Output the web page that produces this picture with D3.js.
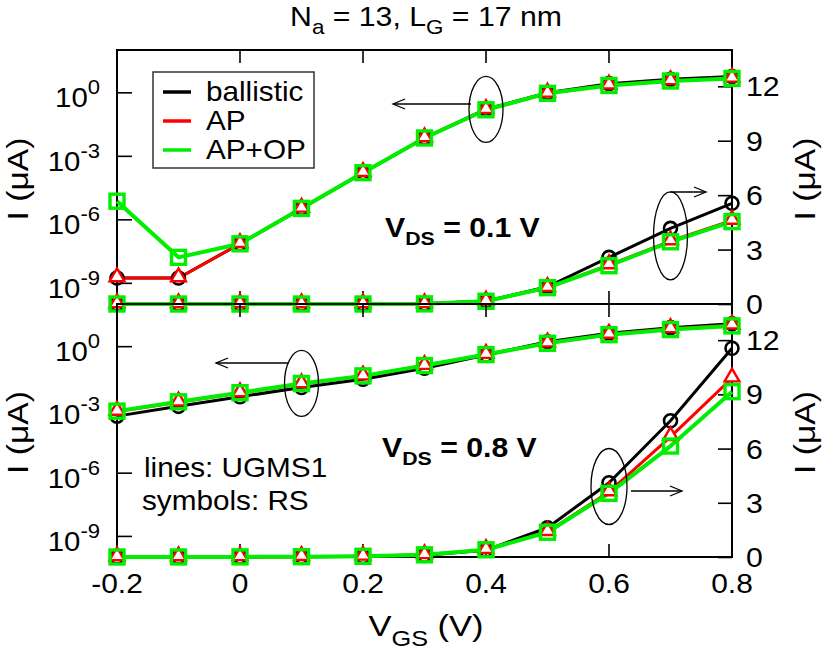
<!DOCTYPE html>
<html>
<head>
<meta charset="utf-8">
<script src="https://cdn.jsdelivr.net/npm/d3@7"></script>
<style>
  body { margin: 0; background: #fff; }
  text { font-family: "Liberation Sans", Arial, sans-serif; fill: #000; }
</style>
</head>
<body>
<div id="chart"></div>
<script>
var width = 830;
var height = 652;

// gate voltage (V)
var vgs = [-0.2, -0.1, 0, 0.1, 0.2, 0.3, 0.4, 0.5, 0.6, 0.7, 0.8];

// current (uA), VDS = 0.1 V
var ballistic01 = [1.7e-9, 1.7e-9, 7e-8, 3.3e-6, 1.6e-4, 7e-3, 0.16, 0.95, 2.57, 4.17, 5.55];
var ap01        = [1.7e-9, 1.7e-9, 7e-8, 3.3e-6, 1.6e-4, 7e-3, 0.15, 0.9, 2.15, 3.47, 4.6];
var apop01      = [7.2e-6, 1.6e-8, 7e-8, 3.3e-6, 1.6e-4, 7e-3, 0.15, 0.9, 2.11, 3.43, 4.54];

// current (uA), VDS = 0.8 V
var ballistic08 = [4.8e-4, 1.4e-3, 4e-3, 0.011, 0.027, 0.09, 0.38, 1.62, 4.11, 7.54, 11.55];
var ap08        = [8e-4, 2.2e-3, 6e-3, 0.016, 0.038, 0.12, 0.4, 1.4, 3.6, 6.65, 9.9];
var apop08      = [8.3e-4, 2.3e-3, 6.2e-3, 0.017, 0.039, 0.12, 0.4, 1.37, 3.52, 6.14, 9.15];

var xTicks   = [-0.2, 0, 0.2, 0.4, 0.6, 0.8];
var xLabels  = ["-0.2", "0", "0.2", "0.4", "0.6", "0.8"];
var logTicks = [1e0, 1e-3, 1e-6, 1e-9];
var logLabels = ["0", "-3", "-6", "-9"];
var linTicks = [0, 3, 6, 9, 12];
var legendNames = ["ballistic", "AP", "AP+OP"];

var colors = {ballistic: "#000000", ap: "#ff0000", apop: "#00ee00"};

var svg = d3.select("#chart").append("svg")
  .attr("width", width)
  .attr("height", height);

// text with a slight horizontal stretch, like the original figure
function txt(parent, x, y, size, sx, rot){
  var tr = "translate(" + x + "," + y + ")" + (rot ? " rotate(" + rot + ")" : "") + " scale(" + sx + ",1)";
  return parent.append("text").attr("transform", tr).attr("font-size", size);
}

var left = 117, right = 732;
var x = d3.scaleLinear().domain([-0.2, 0.8]).range([left, right]);

var panels = [
  {top: 50,  bottom: 304, vds: "0.1", data: [ballistic01, ap01, apop01]},
  {top: 304, bottom: 557, vds: "0.8", data: [ballistic08, ap08, apop08]}
];

panels.forEach(function(p){
  p.yLog = d3.scaleLog().domain([1e-10, 1e2]).range([p.bottom, p.top]);
  p.yLin = d3.scaleLinear().domain([0, 14]).range([p.bottom, p.top]);
});

function drawCurves(g, p, y){
  var line = d3.line().x(function(d){ return x(d[0]); }).y(function(d){ return y(d[1]); });
  var series = [
    {vals: p.data[0], color: colors.ballistic, w: 3},
    {vals: p.data[1], color: colors.ap, w: 3},
    {vals: p.data[2], color: colors.apop, w: 4}
  ];
  series.forEach(function(s){
    g.append("path")
      .datum(d3.zip(vgs, s.vals))
      .attr("d", line)
      .attr("fill", "none")
      .attr("stroke", s.color)
      .attr("stroke-width", s.w)
      .attr("stroke-linejoin", "round");
  });
  // symbols: circles, triangles, squares
  g.selectAll(null).data(d3.zip(vgs, p.data[0])).enter().append("circle")
    .attr("cx", function(d){ return x(d[0]); })
    .attr("cy", function(d){ return y(d[1]); })
    .attr("r", 6.5)
    .attr("fill", "none")
    .attr("stroke", colors.ballistic)
    .attr("stroke-width", 2.6);
  var tri = d3.symbol().type(d3.symbolTriangle).size(95);
  g.selectAll(null).data(d3.zip(vgs, p.data[1])).enter().append("path")
    .attr("d", tri)
    .attr("transform", function(d){ return "translate(" + x(d[0]) + "," + (y(d[1]) - 1) + ")"; })
    .attr("fill", "#fff")
    .attr("stroke", colors.ap)
    .attr("stroke-width", 2.4);
  g.selectAll(null).data(d3.zip(vgs, p.data[2])).enter().append("rect")
    .attr("x", function(d){ return x(d[0]) - 7; })
    .attr("y", function(d){ return y(d[1]) - 7; })
    .attr("width", 14)
    .attr("height", 14)
    .attr("fill", "none")
    .attr("stroke", colors.apop)
    .attr("stroke-width", 3.4);
}

function arrowHead(g, x0, y0, dir){
  g.append("path")
    .attr("d", "M" + (x0 - dir * 12) + "," + (y0 - 5) + "L" + x0 + "," + y0 + "L" + (x0 - dir * 12) + "," + (y0 + 5))
    .attr("fill", "none").attr("stroke", "#000").attr("stroke-width", 1.3);
}

function annot(g, cx, cy, rx, ry, x1, y1, x2, dir){
  g.append("ellipse").attr("cx", cx).attr("cy", cy).attr("rx", rx).attr("ry", ry)
    .attr("fill", "none").attr("stroke", "#000").attr("stroke-width", 1.3);
  g.append("line").attr("x1", x1).attr("y1", y1).attr("x2", x2).attr("y2", y1)
    .attr("stroke", "#000").attr("stroke-width", 1.3);
  arrowHead(g, x2, y1, dir);
}

panels.forEach(function(p, i){
  var g = svg.append("g");

  // frame
  g.append("rect")
    .attr("x", left).attr("y", p.top)
    .attr("width", right - left).attr("height", p.bottom - p.top)
    .attr("fill", "none").attr("stroke", "#000").attr("stroke-width", 2);

  // x ticks (inward, top and bottom)
  xTicks.forEach(function(t){
    g.append("line").attr("x1", x(t)).attr("x2", x(t)).attr("y1", p.top).attr("y2", p.top + 13)
      .attr("stroke", "#000").attr("stroke-width", 1.6);
    g.append("line").attr("x1", x(t)).attr("x2", x(t)).attr("y1", p.bottom).attr("y2", p.bottom - 13)
      .attr("stroke", "#000").attr("stroke-width", 1.6);
  });

  // left log axis
  var la = g.append("g").attr("transform", "translate(" + left + ",0)")
    .call(d3.axisLeft(p.yLog).tickValues(logTicks).tickSize(-15).tickFormat(""));
  la.select(".domain").remove();
  la.selectAll(".tick line").attr("stroke-width", 1.6);
  logTicks.forEach(function(t, k){
    var tx = txt(g, 100, p.yLog(t) + 15, 28, 1.05).attr("text-anchor", "end");
    tx.append("tspan").text("10");
    tx.append("tspan").attr("dy", -13).attr("font-size", 21).text(logLabels[k]);
  });

  // right linear axis
  var ra = g.append("g").attr("transform", "translate(" + right + ",0)")
    .call(d3.axisRight(p.yLin).tickValues(linTicks).tickSize(-14).tickFormat(""));
  ra.select(".domain").remove();
  ra.selectAll(".tick line").attr("stroke-width", 1.6);
  linTicks.forEach(function(t){
    txt(g, 746, p.yLin(t) + 10, 28, 1.08).text(t);
  });

  // axis titles
  [28, 815].forEach(function(ax){
    txt(g, ax, (p.top + p.bottom) / 2 + 2, 30, 1.12, -90)
      .attr("text-anchor", "middle")
      .text("I (\u03bcA)");
  });

  drawCurves(g, p, p.yLog);
  drawCurves(g, p, p.yLin);

  // VDS label
  var vt = txt(g, i === 0 ? 385 : 382, i === 0 ? 237 : 457, 27, 1.12)
    .attr("font-weight", "bold");
  vt.append("tspan").text("V");
  vt.append("tspan").attr("dy", 8).attr("font-size", 19).text("DS");
  vt.append("tspan").attr("dy", -8).text(" = " + p.vds + " V");
});

// annotations (ellipses + arrows)
var ga = svg.append("g");
annot(ga, x(0.4), panels[0].yLog(0.155), 17, 33, 471, 104, 393, -1);
annot(ga, x(0.7), panels[0].yLin(3.75), 17, 44, x(0.7), 192, 706, 1);
annot(ga, x(0.1), panels[1].yLog(0.017), 17, 33, 288, 363, 216, -1);
annot(ga, x(0.6), panels[1].yLin(3.9), 18, 38, 631, 491, 682, 1);

// x tick labels
xTicks.forEach(function(t, k){
  txt(svg, x(t), 593, 28, 1.07)
    .attr("text-anchor", "middle")
    .text(xLabels[k]);
});

// x axis title
var xt = txt(svg, 426, 636, 30, 1.15).attr("text-anchor", "middle");
xt.append("tspan").text("V");
xt.append("tspan").attr("dy", 10).attr("font-size", 22).text("GS");
xt.append("tspan").attr("dy", -10).text(" (V)");

// title
var tt = txt(svg, 426, 26, 27, 1.12).attr("text-anchor", "middle");
tt.append("tspan").text("N");
tt.append("tspan").attr("dy", 8).attr("font-size", 20).text("a");
tt.append("tspan").attr("dy", -8).text(" = 13, L");
tt.append("tspan").attr("dy", 8).attr("font-size", 20).text("G");
tt.append("tspan").attr("dy", -8).text(" = 17 nm");

// legend
var lg = svg.append("g");
lg.append("rect").attr("x", 153).attr("y", 72).attr("width", 161).attr("height", 96)
  .attr("fill", "#fff").attr("stroke", "#333").attr("stroke-width", 1.5);
var legendColors = [colors.ballistic, colors.ap, colors.apop];
legendNames.forEach(function(n, k){
  var yy = 92 + k * 29;
  lg.append("line").attr("x1", 163).attr("x2", 191).attr("y1", yy).attr("y2", yy)
    .attr("stroke", legendColors[k]).attr("stroke-width", 3.5);
  txt(lg, 206, yy + 9, 27, 1.1).text(n);
});

// model note
txt(svg, 144, 477, 27, 1.1).text("lines: UGMS1");
txt(svg, 142, 510, 27, 1.1).text("symbols: RS");
</script>
</body>
</html>
